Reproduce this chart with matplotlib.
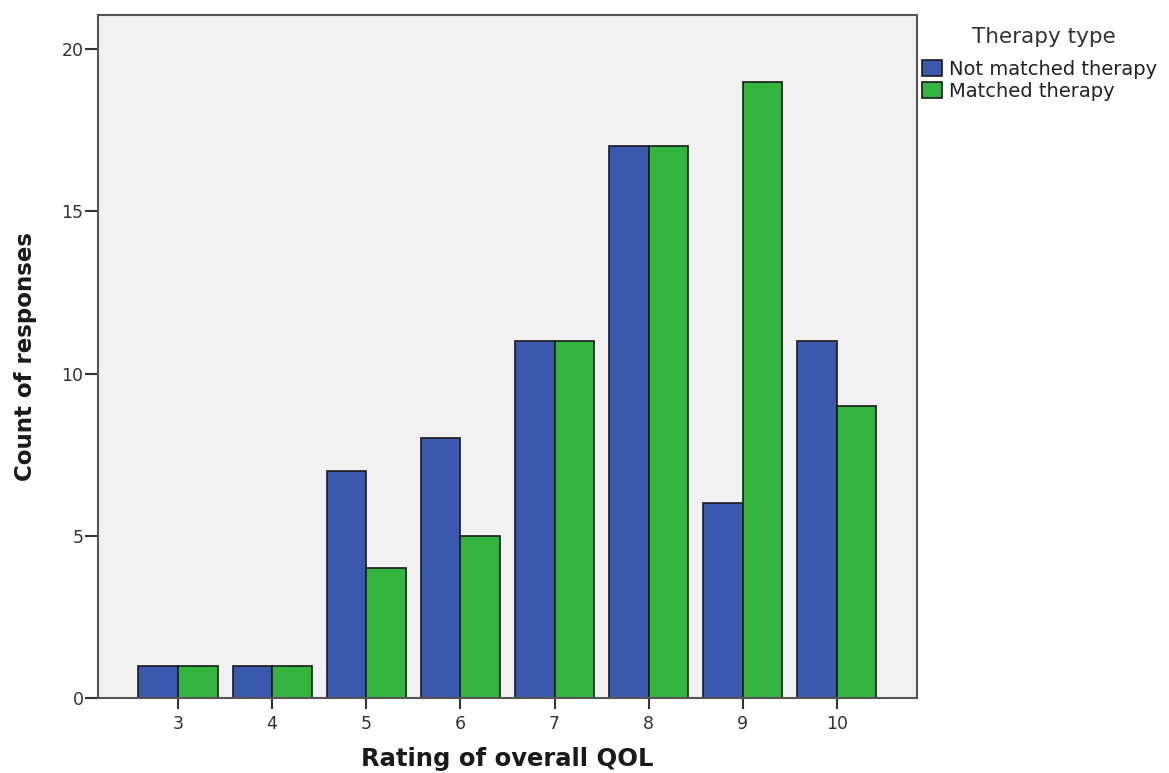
import numpy as np
import matplotlib.pyplot as plt

ratings = [3, 4, 5, 6, 7, 8, 9, 10]
not_matched = [1, 1, 7, 8, 11, 17, 6, 11]
matched = [1, 1, 4, 5, 11, 17, 19, 9]
series_names = ['Not matched therapy', 'Matched therapy']

plt.rcParams['font.family'] = 'DejaVu Sans'

fig = plt.figure(figsize=(11.69, 7.73), dpi=100)
ax = fig.add_axes([0.0838, 0.097, 0.7006, 0.8836])
ax.set_facecolor('#f0f1f0')

x = np.array(ratings)
w = 0.42
ax.bar(x - w/2, not_matched, w, color='#3a58ae', edgecolor='#1a1a1a', linewidth=1.2,
       label=series_names[0], zorder=2)
ax.bar(x + w/2, matched, w, color='#33b53f', edgecolor='#1a1a1a', linewidth=1.2,
       label=series_names[1], zorder=2)

ax.set_xlim(2.15, 10.85)
ax.set_ylim(0, 21.05)
ax.set_xticks(ratings)
ax.set_yticks([0, 5, 10, 15, 20])

for s in ax.spines.values():
    s.set_color('#555555')
    s.set_linewidth(1.5)

ax.tick_params(axis='both', direction='out', width=1.5, color='#333333',
               labelsize=12.5, labelcolor='#333333')
ax.tick_params(axis='x', length=8, pad=4)
ax.tick_params(axis='y', length=9.5, pad=1)

ax.set_xlabel('Rating of overall QOL', fontsize=17.5, fontweight='bold', color='#1a1a1a', labelpad=10)
ax.set_ylabel('Count of responses', fontsize=16.5, fontweight='bold', color='#1a1a1a', labelpad=17.5)

# legend title drawn separately to get the wider gap above the entries
fig.text(1044 / 1169, 1 - 37 / 773, 'Therapy type', fontsize=15.5, color='#333333',
         ha='center', va='center')
leg = ax.legend(loc='upper left', bbox_to_anchor=(922 / 1169, 1 - 60 / 773),
                bbox_transform=fig.transFigure, frameon=False,
                fontsize=14, handlelength=1.03, handleheight=0.88, handletextpad=0.35,
                labelspacing=0.15, borderaxespad=0, borderpad=0)
for t in leg.get_texts():
    t.set_color('#222222')

fig.savefig('out.png', dpi=100)
